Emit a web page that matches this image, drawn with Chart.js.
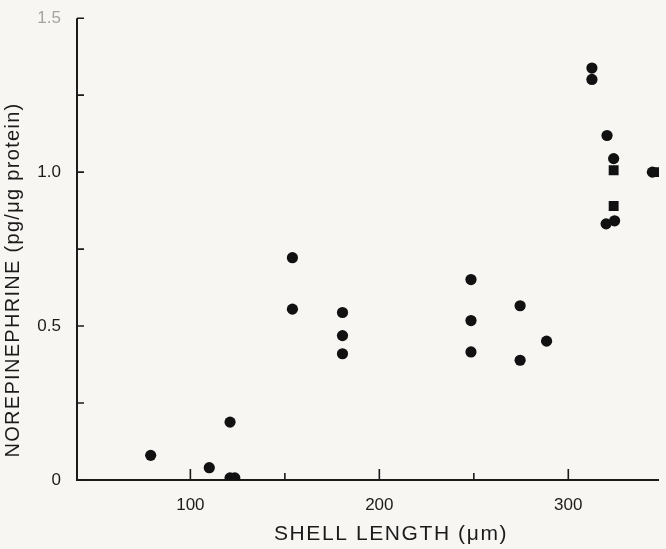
<!DOCTYPE html>
<html>
<head>
<meta charset="utf-8">
<script src="https://cdn.jsdelivr.net/npm/chart.js"></script>
<style>
  html, body { margin: 0; padding: 0; background: #f7f6f2; overflow: hidden; }
  canvas { display: block; }
</style>
</head>
<body>
<canvas id="nepChart" width="666" height="549"></canvas>
<script>
// shell length (um) vs norepinephrine (pg/ug protein)
var circleX = [79, 110, 121, 121, 123.5, 154, 154, 180.5, 180.5, 180.5, 248.5, 248.5, 248.5, 274.5, 274.5, 288.5, 312.5, 312.5, 320.5, 324, 324.5, 320, 344.5];
var circleY = [0.08, 0.04, 0.188, 0.007, 0.007, 0.722, 0.555, 0.544, 0.469, 0.41, 0.651, 0.518, 0.416, 0.566, 0.389, 0.451, 1.338, 1.301, 1.119, 1.044, 0.842, 0.832, 1.0];
var squareX = [324, 324, 347.5];
var squareY = [1.006, 0.89, 1.0];

var xLabelTicks = [100, 200, 300];
var xMinorTicks = [150, 250];
var yLabelTicks = [0, 0.5, 1.0, 1.5];
var yMinorTicks = [0.25, 0.75, 1.25];

var xTitle = "SHELL LENGTH (\u03bcm)";
var yTitle = "NOREPINEPHRINE (pg/\u03bcg protein)";

var ink = "#1b1b1b";

function toPoints(xs, ys) {
    return xs.map(function(x, i) { return {x: x, y: ys[i]}; });
}

// axis lines + inward tick marks, drawn from the scales
var framePlugin = {
    id: "frame",
    beforeDatasetsDraw: function(chart) {
        var ctx = chart.ctx, a = chart.chartArea;
        var xs = chart.scales.x, ys = chart.scales.y;
        ctx.save();
        ctx.strokeStyle = ink;
        ctx.lineWidth = 2;
        ctx.beginPath();
        ctx.moveTo(a.left, a.top);
        ctx.lineTo(a.left, a.bottom);
        ctx.lineTo(a.right, a.bottom);
        ctx.stroke();
        ctx.lineWidth = 1.6;
        ctx.beginPath();
        yLabelTicks.concat(yMinorTicks).forEach(function(v) {
            var py = ys.getPixelForValue(v);
            ctx.moveTo(a.left, py);
            ctx.lineTo(a.left + 7, py);
        });
        xLabelTicks.forEach(function(v) {
            var px = xs.getPixelForValue(v);
            ctx.moveTo(px, a.bottom);
            ctx.lineTo(px, a.bottom - 11);
        });
        xMinorTicks.forEach(function(v) {
            var px = xs.getPixelForValue(v);
            ctx.moveTo(px, a.bottom);
            ctx.lineTo(px, a.bottom - 7);
        });
        ctx.stroke();
        ctx.restore();
    },
    afterDraw: function(chart) {
        var ctx = chart.ctx;
        ctx.save();
        ctx.fillStyle = ink;
        ctx.textAlign = "center";
        ctx.textBaseline = "middle";
        ctx.letterSpacing = "1.6px";
        ctx.font = "21px 'Liberation Sans', Arial, sans-serif";
        ctx.fillText(xTitle, 391, 534);
        ctx.translate(13, 280);
        ctx.rotate(-Math.PI / 2);
        ctx.letterSpacing = "1.3px";
        ctx.font = "20px 'Liberation Sans', Arial, sans-serif";
        ctx.fillText(yTitle, 0, 0);
        ctx.restore();
    }
};

new Chart("nepChart", {
    type: "scatter",
    data: {
        datasets: [{
            data: toPoints(circleX, circleY),
            pointStyle: "circle",
            pointRadius: 5.6,
            backgroundColor: "#111",
            borderWidth: 0
        }, {
            data: toPoints(squareX, squareY),
            pointStyle: "rect",
            pointRadius: 7,
            backgroundColor: "#111",
            borderWidth: 0
        }]
    },
    options: {
        responsive: false,
        animation: false,
        layout: {padding: {top: 14, right: 0, bottom: 0, left: 0}},
        plugins: {legend: {display: false}, tooltip: {enabled: false}},
        scales: {
            x: {
                type: "linear",
                min: 40,
                max: 348,
                grid: {display: false},
                border: {display: false},
                ticks: {
                    padding: 7,
                    maxRotation: 0,
                    autoSkip: false,
                    color: ink,
                    font: {family: "'Liberation Sans', Arial, sans-serif", size: 17}
                },
                afterBuildTicks: function(s) {
                    s.ticks = xLabelTicks.map(function(v) { return {value: v}; });
                },
                afterFit: function(s) { s.height = 69; }
            },
            y: {
                min: 0,
                max: 1.5,
                grid: {display: false},
                border: {display: false},
                ticks: {
                    padding: 8,
                    color: function(c) { return c.tick && c.tick.value === 1.5 ? "#a3a3a3" : ink; },
                    font: {family: "'Liberation Sans', Arial, sans-serif", size: 17},
                    callback: function(v) { return v === 0 ? "0" : v.toFixed(1); }
                },
                afterBuildTicks: function(s) {
                    s.ticks = yLabelTicks.map(function(v) { return {value: v}; });
                },
                afterFit: function(s) { s.width = 77; }
            }
        }
    },
    plugins: [framePlugin]
});
</script>
</body>
</html>
